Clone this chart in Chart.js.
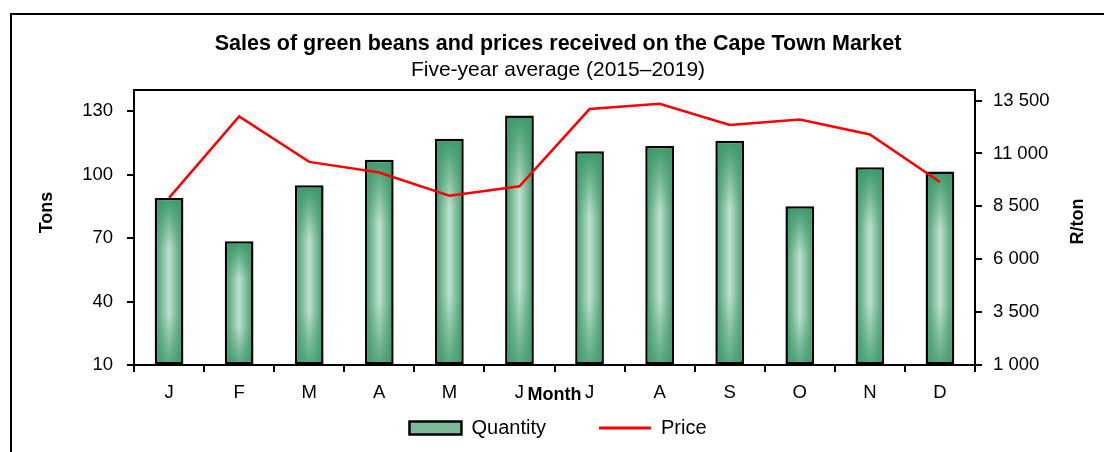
<!DOCTYPE html>
<html>
<head>
<meta charset="utf-8">
<script src="https://cdn.jsdelivr.net/npm/chart.js@4"></script>
<style>
    html, body { margin: 0; padding: 0; background: #fff; overflow: hidden; }
    #wrap { position: relative; width: 1104px; height: 452px; }
    #chart { position: absolute; left: 0; top: 0; }
    #frame { position: absolute; left: 10px; top: 13px; width: 1200px; height: 600px; border: 2.5px solid #000; pointer-events: none; }
</style>
</head>
<body>
<div id="wrap">
    <canvas id="chart" width="1104" height="452"></canvas>
    <div id="frame"></div>
</div>
<script>
const months = ['J', 'F', 'M', 'A', 'M', 'J', 'J', 'A', 'S', 'O', 'N', 'D'];
const quantity = [89, 68.5, 95, 107, 117, 128, 111, 113.5, 116, 85, 103.5, 101.5];
const price = [8900, 12750, 10600, 10100, 9000, 9450, 13100, 13350, 12350, 12600, 11900, 9650];
const tonsTicks = [10, 40, 70, 100, 130];
const priceTicks = [1000, 3500, 6000, 8500, 11000, 13500];

const FONT = '"Liberation Sans", Arial, sans-serif';
const DARK = '#3b9868';
const LIGHT = '#bfe1ce';
const BAR_PCT = 0.41;
const BAR_BORDER = 2.5;

Chart.defaults.font.family = FONT;
Chart.defaults.color = '#000';

const fmtPrice = v => String(v).replace(/\B(?=(\d{3})+(?!\d))/g, ' ');

function barFill(ctx) {
    const x = ctx.chart.scales.x;
    if (!x || ctx.type !== 'data') return '#7dbb98';
    const cx = x.getPixelForValue(ctx.dataIndex);
    const half = (x.width / months.length) * BAR_PCT / 2;
    const g = ctx.chart.ctx.createLinearGradient(cx - half, 0, cx + half, 0);
    g.addColorStop(0, DARK);
    g.addColorStop(0.5, LIGHT);
    g.addColorStop(1, DARK);
    return g;
}

// darkens top and bottom of each bar so the light part sits in the middle
const barShade = {
    id: 'barShade',
    afterDatasetDraw(chart, args) {
        if (args.index !== 0) return;
        const c = chart.ctx;
        const a = chart.chartArea;
        c.save();
        c.beginPath();
        c.rect(a.left, a.top, a.right - a.left, a.bottom - a.top);
        c.clip();
        args.meta.data.forEach(bar => {
            const l = bar.x - bar.width / 2 + BAR_BORDER;
            const t = bar.y + BAR_BORDER;
            const b = bar.base - BAR_BORDER;
            const g = c.createLinearGradient(0, t, 0, b);
            g.addColorStop(0, 'rgba(59,152,104,0.95)');
            g.addColorStop(0.3, 'rgba(59,152,104,0)');
            g.addColorStop(0.7, 'rgba(59,152,104,0)');
            g.addColorStop(1, 'rgba(59,152,104,0.75)');
            c.fillStyle = g;
            c.fillRect(l, t, bar.width - 2 * BAR_BORDER, b - t);
        });
        c.restore();
    }
};

// legend box starts where the x axis box starts, so its items land under the tick labels
const legendLift = {
    id: 'legendLift',
    afterLayout(chart) {
        const lg = chart.legend;
        lg.top = chart.scales.x.top;
        lg.bottom = chart.height;
        lg.height = lg.bottom - lg.top;
    }
};

// top edge of the plot box and the two rotated axis titles
const extras = {
    id: 'extras',
    afterDraw(chart) {
        const c = chart.ctx;
        const a = chart.chartArea;
        c.save();
        c.strokeStyle = '#000';
        c.lineWidth = 2;
        c.beginPath();
        c.moveTo(a.left - 1, a.top);
        c.lineTo(a.right + 1, a.top);
        c.stroke();

        c.font = 'bold 18px ' + FONT;
        c.fillStyle = '#000';
        c.textAlign = 'center';
        c.textBaseline = 'middle';
        const mid = (a.top + a.bottom) / 2;

        c.save();
        c.translate(47, mid - 15);
        c.rotate(-Math.PI / 2);
        c.fillText('Tons', 0, 0);
        c.restore();

        c.save();
        c.translate(a.right + 103, mid - 6);
        c.rotate(-Math.PI / 2);
        c.fillText('R/ton', 0, 0);
        c.restore();

        c.restore();
    }
};

new Chart(document.getElementById('chart').getContext('2d'), {
    type: 'bar',
    data: {
        labels: months,
        datasets: [
            {
                type: 'bar',
                label: 'Quantity',
                data: quantity,
                yAxisID: 'y',
                base: 10,
                backgroundColor: barFill,
                borderColor: '#000',
                borderWidth: BAR_BORDER,
                borderSkipped: false,
                barPercentage: BAR_PCT,
                categoryPercentage: 1,
                order: 1
            },
            {
                type: 'line',
                label: 'Price',
                data: price,
                yAxisID: 'y1',
                borderColor: '#ff0000',
                backgroundColor: '#ff0000',
                borderWidth: 2.5,
                pointRadius: 0,
                tension: 0,
                order: 0
            }
        ]
    },
    options: {
        responsive: false,
        animation: false,
        layout: { padding: { left: 12, right: 0, top: 0, bottom: 0 } },
        plugins: {
            title: {
                display: true,
                text: 'Sales of green beans and prices received on the Cape Town Market',
                color: '#000',
                font: { size: 21.5, weight: 'bold' },
                padding: { top: 31, bottom: 0 }
            },
            subtitle: {
                display: true,
                text: 'Five-year average (2015–2019)',
                color: '#000',
                font: { size: 21 },
                padding: { top: 1, bottom: 7 }
            },
            legend: {
                position: 'bottom',
                maxHeight: 47,
                labels: {
                    color: '#000',
                    font: { size: 20 },
                    usePointStyle: true,
                    pointStyleWidth: 52,
                    boxHeight: 13,
                    padding: 53,
                    generateLabels(chart) {
                        const ds = chart.data.datasets;
                        return [
                            { text: ds[0].label, fillStyle: '#7dbb98', strokeStyle: '#000', lineWidth: 2.5, pointStyle: 'rect', datasetIndex: 0, fontColor: '#000' },
                            { text: ds[1].label, fillStyle: '#ff0000', strokeStyle: '#ff0000', lineWidth: 3, pointStyle: 'line', datasetIndex: 1, fontColor: '#000' }
                        ];
                    }
                }
            },
            tooltip: { enabled: false }
        },
        scales: {
            x: {
                offset: true,
                grid: { offset: true, drawOnChartArea: false, color: '#000', lineWidth: 2, tickLength: 7 },
                border: { color: '#000', width: 2 },
                ticks: { color: '#000', font: { size: 18.5 }, padding: 10, maxRotation: 0, autoSkip: false },
                title: { display: true, text: 'Month', color: '#000', font: { size: 18, weight: 'bold' }, padding: { top: 0, bottom: -1 } },
                afterFit(s) { s.height = 40; }
            },
            y: {
                position: 'left',
                min: 10,
                max: 140,
                afterBuildTicks(s) { s.ticks = tonsTicks.map(v => ({ value: v })); },
                grid: { drawOnChartArea: false, color: '#000', lineWidth: 2, tickLength: 7 },
                border: { color: '#000', width: 2 },
                ticks: { color: '#000', font: { size: 18.5 }, padding: 14 },
                afterFit(s) { s.width = 122; }
            },
            y1: {
                position: 'right',
                min: 1000,
                max: 14000,
                afterBuildTicks(s) { s.ticks = priceTicks.map(v => ({ value: v })); },
                grid: { drawOnChartArea: false, color: '#000', lineWidth: 2, tickLength: 7 },
                border: { color: '#000', width: 2 },
                ticks: { color: '#000', font: { size: 18.5 }, padding: 11, callback: v => fmtPrice(v) },
                afterFit(s) { s.width = 129; }
            }
        }
    },
    plugins: [barShade, legendLift, extras]
});
</script>
</body>
</html>
